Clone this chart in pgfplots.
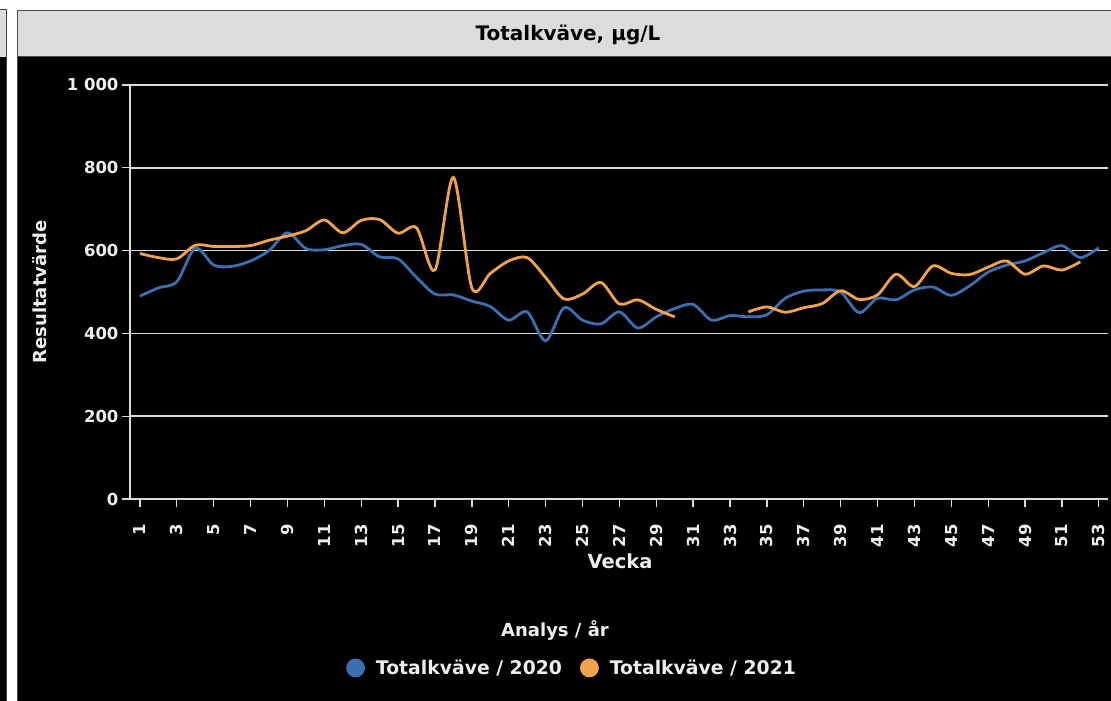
\documentclass[border=0pt]{standalone}
\usepackage{fontspec}
\setmainfont{DejaVu Sans}
\usepackage{pgfplots}
\pgfplotsset{compat=1.18}
\definecolor{cblue}{RGB}{59,111,176}
\definecolor{corange}{RGB}{240,163,75}
\definecolor{gridc}{RGB}{218,218,218}
\definecolor{tbar}{RGB}{220,220,220}
\definecolor{txt}{RGB}{238,238,238}
\begin{document}
\begin{tikzpicture}[x=1pt,y=1pt]
\path[use as bounding box] (0,0) rectangle (1111,701);
\fill[white] (0,0) rectangle (1111,701);
% left neighbour panel edge
\fill[black] (0,0) rectangle (7,644);
\fill[tbar] (0,644) rectangle (6.5,691);
\draw[black!75,line width=1] (-1,691) -- (6.5,691) -- (6.5,0);
% main panel
\fill[black] (17,0) rectangle (1111,644);
\fill[tbar] (17.5,644) rectangle (1111,690.5);
\draw[black!70,line width=1] (17.5,0) -- (17.5,690.5) -- (1112,690.5);
\draw[black!70,line width=1] (17.5,644) -- (1112,644);
\node[font=\bfseries\fontsize{20}{23}\selectfont, text=black] at (568,666) {Totalkväve, µg/L};
\node[font=\bfseries\fontsize{18}{21}\selectfont, text=txt] at (555,71) {Analys / år};
\begin{axis}[
  at={(130pt,202pt)}, anchor=south west,
  scale only axis, width=978pt, height=414pt,
  xmin=0.46, xmax=53.5, ymin=0, ymax=1000,
  axis x line*=bottom, axis y line*=left,
  axis line style={gridc, line width=1.6pt},
  ymajorgrids, major grid style={gridc, line width=1.5pt},
  tick style={gridc, line width=1.3pt},
  major tick length=8pt, tick align=outside,
  xtick={1,3,...,53},
  ytick={0,200,400,600,800,1000},
  yticklabels={0,200,400,600,800,1 000},
  /pgf/number format/assume math mode=true,
  ticklabel style={font=\bfseries\fontsize{16.5}{19}\selectfont, text=txt},
  xticklabel style={rotate=90, anchor=east, inner sep=1pt, xshift=-16pt},
  xlabel={Vecka},
  xlabel style={at={(axis description cs:0.501,-0.15)}, anchor=center, font=\bfseries\fontsize{19.5}{23}\selectfont, text=txt},
  ylabel={Resultatvärde},
  ylabel style={at={(axis description cs:-0.092,0.5)}, anchor=center, font=\bfseries\fontsize{18}{21}\selectfont, text=txt},
  legend columns=2,
  legend style={at={(0.452,-0.408)}, anchor=center, draw=none, fill=none,
    text=txt, font=\bfseries\fontsize{18.8}{22}\selectfont,
    /tikz/every odd column/.append style={column sep=9pt},
    /tikz/every even column/.append style={column sep=16pt}},
  legend cell align=left,
  legend image code/.code={\fill[#1] (2pt,0pt) circle (8pt);},
]
\addplot[cblue, line width=2.8pt, smooth, tension=0.5] coordinates {
(1,490) (2,510) (3,525) (4,606) (5,565) (6,562) (7,575) (8,600) (9,643) (10,605)
(11,602) (12,612) (13,615) (14,585) (15,580) (16,535) (17,495) (18,493) (19,478) (20,465)
(21,432) (22,452) (23,382) (24,462) (25,432) (26,423) (27,452) (28,413) (29,440) (30,460)
(31,470) (32,432) (33,443) (34,440) (35,445) (36,485) (37,502) (38,505) (39,500) (40,450)
(41,485) (42,481) (43,505) (44,512) (45,492) (46,515) (47,548) (48,565) (49,575) (50,595)
(51,612) (52,583) (53,607)
};
\addlegendentry{Totalkväve / 2020}
\addplot[corange, line width=2.8pt, smooth, tension=0.5] coordinates {
(1,593) (2,583) (3,580) (4,613) (5,610) (6,610) (7,612) (8,625) (9,635) (10,648)
(11,674) (12,643) (13,673) (14,675) (15,642) (16,655) (17,553) (18,777) (19,510) (20,545)
(21,575) (22,583) (23,535) (24,483) (25,495) (26,523) (27,471) (28,481) (29,458) (30,440)
};
\addlegendentry{Totalkväve / 2021}
\addplot[corange, line width=2.8pt, smooth, tension=0.5, forget plot] coordinates {
(34,452) (35,464) (36,451) (37,462) (38,472) (39,503) (40,482) (41,493) (42,543) (43,513)
(44,563) (45,545) (46,542) (47,560) (48,575) (49,543) (50,563) (51,553) (52,573)
};
\end{axis}
\end{tikzpicture}
\end{document}
